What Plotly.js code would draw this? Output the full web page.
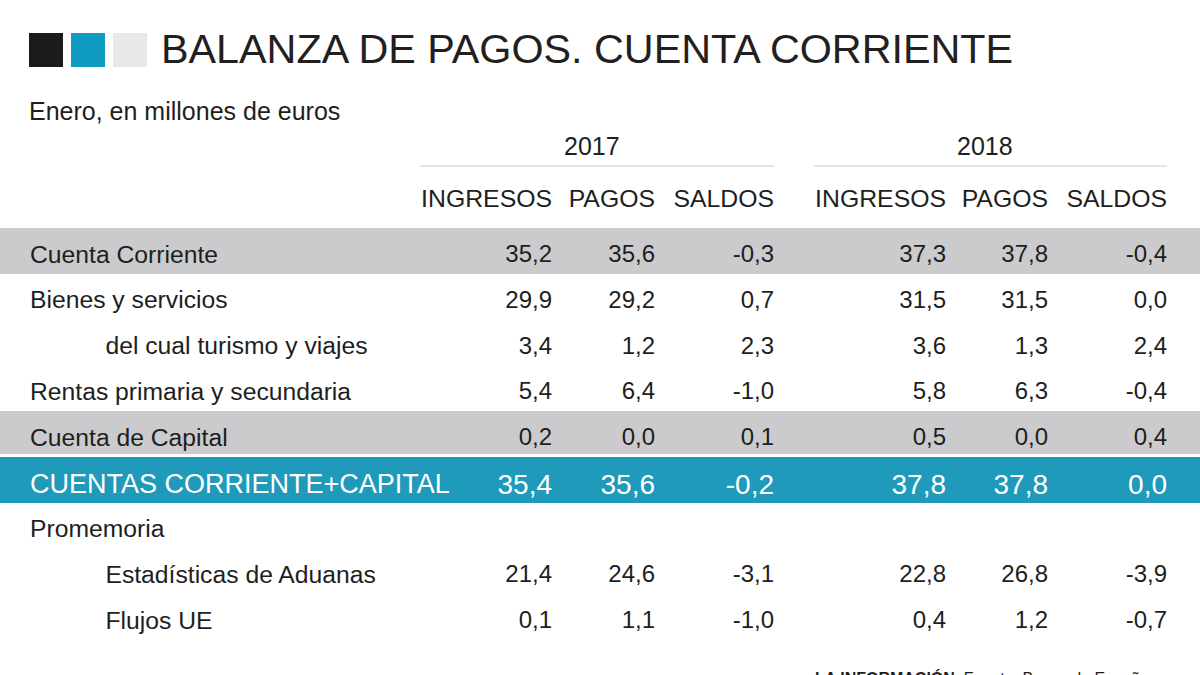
<!DOCTYPE html>
<html>
<head>
<meta charset="utf-8">
<script src="https://cdn.plot.ly/plotly-3.0.1.min.js"></script>
<style>
  html, body { margin: 0; padding: 0; background: #fff; }
  #the_chart { width: 1200px; height: 675px; }
</style>
</head>
<body>
<div id="the_chart"></div>
<script>
// table data
var rowLabels = [
    "Cuenta Corriente",
    "Bienes y servicios",
    "\u00a0".repeat(11) + "del cual turismo y viajes",
    "Rentas primaria y secundaria",
    "Cuenta de Capital",
    "CUENTAS\u00a0CORRIENTE+CAPITAL",
    "Promemoria",
    "\u00a0".repeat(11) + "Estadísticas de Aduanas",
    "\u00a0".repeat(11) + "Flujos UE"
]
var ingresos2017 = [35.2, 29.9, 3.4, 5.4, 0.2, 35.4, null, 21.4, 0.1]
var pagos2017    = [35.6, 29.2, 1.2, 6.4, 0.0, 35.6, null, 24.6, 1.1]
var saldos2017   = [-0.3, 0.7, 2.3, -1.0, 0.1, -0.2, null, -3.1, -1.0]
var ingresos2018 = [37.3, 31.5, 3.6, 5.8, 0.5, 37.8, null, 22.8, 0.4]
var pagos2018    = [37.8, 31.5, 1.3, 6.3, 0.0, 37.8, null, 26.8, 1.2]
var saldos2018   = [-0.4, 0.0, 2.4, -0.4, 0.4, 0.0, null, -3.9, -0.7]
var years = ["2017", "2018"]
var colHeaders = ["INGRESOS", "PAGOS", "SALDOS"]

var W = 1200, H = 675
function px(x) { return x / W }
function py(y) { return 1 - y / H }

function fmt(arr) {
    return arr.map(function (v) {
        if (v === null) return ""
        return v.toFixed(1).replace(".", ",")
    })
}

var gray = "#cbcbcd"
var teal = "#1f9abb"
var ink = "#1e1e1e"
var fontFam = "Liberation Sans, Arial, sans-serif"

var highlight = 5  // the teal row
var rowFill = rowLabels.map(function (l, i) {
    if (i == highlight) return teal
    if (i == 0 || i == 4) return gray
    return "white"
})
var rowFont = rowLabels.map(function (l, i) { return i == highlight ? "white" : ink })
var labelSize = rowLabels.map(function (l, i) { return i == highlight ? 27 : 24.7 })
var numSize = rowLabels.map(function (l, i) { return i == highlight ? 28 : 24 })

var blank = rowLabels.map(function () { return "" })
var columns = [blank, rowLabels,
    fmt(ingresos2017), fmt(pagos2017), fmt(saldos2017),
    fmt(ingresos2018), fmt(pagos2018), fmt(saldos2018), blank]
var aligns = ["left", "left", "right", "right", "right", "right", "right", "right", "right"]
var headerValues = ["", ""].concat(colHeaders, colHeaders, [""])
var rowH = 45.75

// first table paints the headers and row bands, the second one holds the row text
// (its label column is wider so the long teal label is not clipped)
var data = [{
    type: "table",
    domain: {x: [0, 1], y: [0, py(180)]},
    columnwidth: [22, 398, 140, 103, 119, 172, 102, 119, 25],
    header: {
        values: headerValues,
        align: aligns,
        height: 48,
        fill: {color: "white"},
        line: {width: 0, color: "white"},
        font: {family: fontFam, size: 24.8, color: ink}
    },
    cells: {
        values: columns.map(function () { return blank }),
        height: rowH,
        fill: {color: columns.map(function () { return rowFill })},
        line: {width: 0, color: "white"}
    }
}, {
    type: "table",
    domain: {x: [0, 1], y: [0, py(188)]},
    columnwidth: [22, 438, 100, 103, 119, 172, 102, 119, 25],
    header: {
        values: columns.map(function () { return "" }),
        height: 48,
        fill: {color: "rgba(0,0,0,0)"},
        line: {width: 0, color: "rgba(0,0,0,0)"}
    },
    cells: {
        values: columns,
        align: aligns,
        height: rowH,
        fill: {color: "rgba(0,0,0,0)"},
        line: {width: 0, color: "rgba(0,0,0,0)"},
        font: {
            family: fontFam,
            size: columns.map(function (c, j) { return j == 1 ? labelSize : numSize }),
            color: columns.map(function () { return rowFont })
        }
    }
}]

var layout = {
    width: W,
    height: H,
    margin: {l: 0, r: 0, t: 0, b: 0},
    paper_bgcolor: "white",
    font: {family: fontFam, color: ink},
    title: {
        text: "BALANZA DE PAGOS. CUENTA CORRIENTE",
        x: px(161), xanchor: "left", xref: "paper",
        y: py(49), yanchor: "middle", yref: "container",
        font: {size: 41.3, color: "#231f20"}
    },
    shapes: [
        // the three squares
        {type: "rect", xref: "paper", yref: "paper", x0: px(29), x1: px(63), y0: py(33), y1: py(67), fillcolor: "#1d1a1e", line: {width: 0}},
        {type: "rect", xref: "paper", yref: "paper", x0: px(71), x1: px(105), y0: py(33), y1: py(67), fillcolor: "#0f9bbf", line: {width: 0}},
        {type: "rect", xref: "paper", yref: "paper", x0: px(113), x1: px(147), y0: py(33), y1: py(67), fillcolor: "#e8e8e8", line: {width: 0}},
        // year lines
        {type: "line", xref: "paper", yref: "paper", x0: px(420), x1: px(774), y0: py(166), y1: py(166), line: {color: "#e4e4e4", width: 2}},
        {type: "line", xref: "paper", yref: "paper", x0: px(814), x1: px(1167), y0: py(166), y1: py(166), line: {color: "#e4e4e4", width: 2}},
        // thin white gap above the teal band
        {type: "line", xref: "paper", yref: "paper", x0: 0, x1: 1, y0: py(455.5), y1: py(455.5), line: {color: "white", width: 3}}
    ],
    annotations: [
        {text: "Enero, en millones de euros", xref: "paper", yref: "paper", x: px(27), y: py(111),
         xanchor: "left", yanchor: "middle", showarrow: false, font: {size: 25, color: ink}},
        {text: years[0], xref: "paper", yref: "paper", x: px(592), y: py(146),
         xanchor: "center", yanchor: "middle", showarrow: false, font: {size: 25, color: ink}},
        {text: years[1], xref: "paper", yref: "paper", x: px(985), y: py(146),
         xanchor: "center", yanchor: "middle", showarrow: false, font: {size: 25, color: ink}},
        {text: "<b>LA INFORMACIÓN.</b> Fuente: Banco de España", xref: "paper", yref: "paper", x: px(813), y: py(667),
         xanchor: "left", yanchor: "top", showarrow: false, font: {size: 16, color: ink}}
    ]
}

Plotly.newPlot("the_chart", data, layout, {displayModeBar: false, staticPlot: true})
</script>
</body>
</html>
